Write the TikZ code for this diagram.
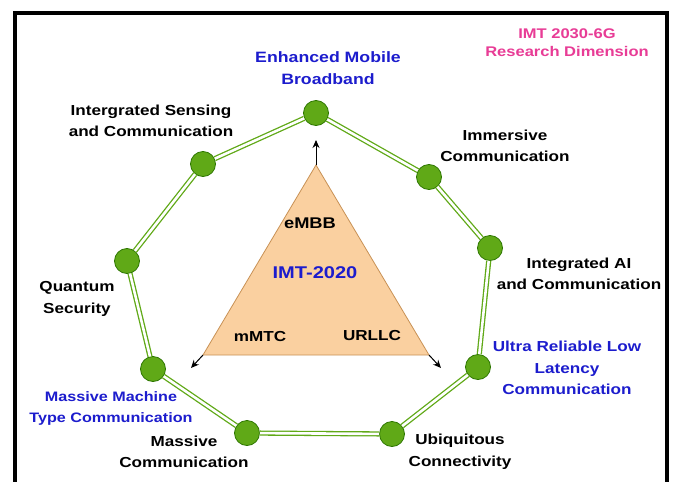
\documentclass[tikz,border=0pt]{standalone}
\usepackage{fontspec}
\setmainfont{Liberation Sans}[FakeStretch=1.18]
\usetikzlibrary{arrows.meta}
\definecolor{ringgreen}{RGB}{96,169,23}
\definecolor{ringdark}{RGB}{45,118,0}
\definecolor{labblue}{RGB}{28,28,205}
\definecolor{labpink}{RGB}{232,60,150}
\definecolor{trifill}{RGB}{250,208,160}
\definecolor{tridraw}{RGB}{200,145,85}
\begin{document}
\begin{tikzpicture}[x=1pt,y=-1pt,
  lab/.style={font=\bfseries\fontsize{14.5}{21.6}\selectfont, align=center, inner sep=0pt},
  blab/.style={lab, text=labblue},
  dot/.style={circle, fill=ringgreen, draw=ringdark, line width=0.8pt, minimum size=25pt, inner sep=0pt},
  ring/.style={draw=ringgreen, line width=1.3pt, double=white, double distance=2.6pt},
  arr/.style={-{Stealth[length=8pt,width=7pt]}, line width=1pt}]
\useasboundingbox (0,0) rectangle (675,482);
\clip (0,0) rectangle (675,482);
\fill[white] (0,0) rectangle (675,482);
% frame
\draw[line width=4pt] (15,13) rectangle (667,520);

% ring nodes
\node[dot] (n1) at (316,113) {};
\node[dot] (n2) at (429,177) {};
\node[dot] (n3) at (490,248) {};
\node[dot] (n4) at (478,367) {};
\node[dot] (n5) at (392,434) {};
\node[dot] (n6) at (247,433) {};
\node[dot] (n7) at (153,369) {};
\node[dot] (n8) at (127,261) {};
\node[dot] (n9) at (203,164) {};
\draw[ring] (n1) -- (n2);
\draw[ring] (n2) -- (n3);
\draw[ring] (n3) -- (n4);
\draw[ring] (n4) -- (n5);
\draw[ring] (n5) -- (n6);
\draw[ring] (n6) -- (n7);
\draw[ring] (n7) -- (n8);
\draw[ring] (n8) -- (n9);
\draw[ring] (n9) -- (n1);

% triangle
\coordinate (ta) at (316,165);
\coordinate (tl) at (203,355);
\coordinate (tr) at (429,355);
\draw[fill=trifill, draw=tridraw, line width=0.8pt] (ta) -- (tl) -- (tr) -- cycle;
\coordinate (aa) at (316,140);
\coordinate (al) at (191,368);
\coordinate (ar) at (441,368);
\draw[arr] (ta) -- (aa);
\draw[arr] (tl) -- (al);
\draw[arr] (tr) -- (ar);
\node[lab, font=\bfseries\fontsize{15.5}{18}\selectfont] (embb) at (310,223) {eMBB};
\node[blab, font=\bfseries\fontsize{17}{20}\selectfont] (imt) at (315,272.5) {IMT-2020};
\node[lab] (mmtc) at (260,336.5) {mMTC};
\node[lab] (urllc) at (372,336) {URLLC};

% labels
\node[lab, text=labpink, font=\bfseries\fontsize{14}{18}\selectfont] (dim) at (567,43) {IMT 2030-6G\\Research Dimension};
\node[blab, font=\bfseries\fontsize{15}{21.6}\selectfont] (embbL) at (328,68) {Enhanced Mobile\\Broadband};
\node[lab] (isac) at (151,121) {Intergrated Sensing\\and Communication};
\node[lab] (imm) at (505,146) {Immersive\\Communication};
\node[lab] (iai) at (579,274) {Integrated AI\\and Communication};
\node[lab] (qs) at (77,299) {Quantum\\Security};
\node[blab] (urllcL) at (567,368) {Ultra Reliable Low\\Latency\\Communication};
\node[blab, font=\bfseries\fontsize{13.7}{21}\selectfont] (mmtcL) at (111,408) {Massive Machine\\Type Communication};
\node[lab] (mc) at (184,452) {Massive\\Communication};
\node[lab] (uc) at (460,452) {Ubiquitous\\Connectivity};
\end{tikzpicture}
\end{document}
